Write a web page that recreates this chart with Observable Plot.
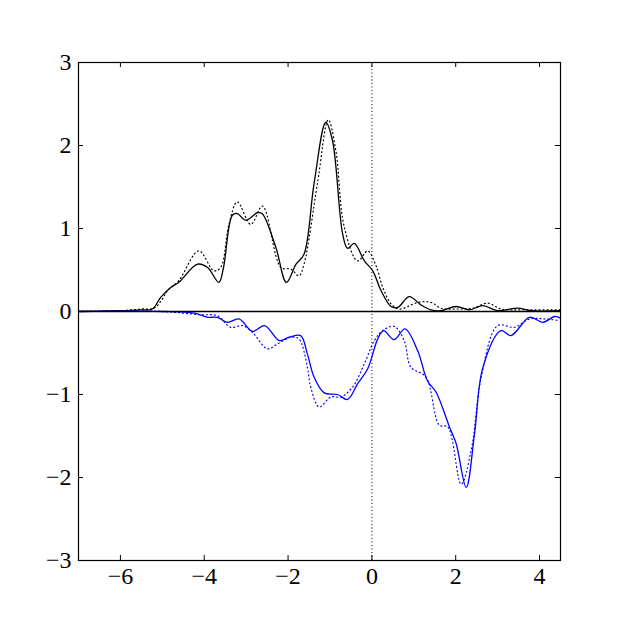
<!DOCTYPE html>
<html>
<head>
<meta charset="utf-8">
<script src="https://cdn.jsdelivr.net/npm/d3@7"></script>
<script src="https://cdn.jsdelivr.net/npm/@observablehq/plot@0.6"></script>
<style>
  html, body { margin: 0; padding: 0; background: #fff; }
  #chart { width: 623px; height: 623px; }
  #note { position: absolute; left: 90px; top: 70px; font: 11px monospace; width: 10px; height: 10px; }
</style>
</head>
<body>
<div id="chart"></div>
<div id="note"></div>
<script>
// Upper (black) curves: [x, y]
const blackSolid = [
  [-7,0],[-6,0.01],[-5.5,0.02],[-5.24,0.03],[-5.04,0.17],[-4.80,0.29],[-4.61,0.35],
  [-4.16,0.57],[-3.92,0.53],[-3.65,0.35],[-3.54,0.53],[-3.33,1.16],[-3.21,1.18],
  [-3.01,1.10],[-2.73,1.19],[-2.62,1.18],[-2.29,0.77],[-2.04,0.35],[-1.81,0.57],
  [-1.62,0.69],[-1.38,1.54],[-1.10,2.28],[-0.94,2.06],[-0.70,0.94],[-0.58,0.76],
  [-0.42,0.82],[-0.18,0.61],[0.02,0.49],[0.22,0.25],[0.46,0.06],[0.62,0.05],
  [0.89,0.18],[1.17,0.08],[1.41,0.02],[1.65,0.01],[2.01,0.06],[2.33,0.02],
  [2.65,0.07],[3.0,0.01],[3.48,0.04],[3.8,0.01],[4.5,0.01]
];
const blackDotted = [
  [-7,0],[-6,0.01],[-5.5,0.03],[-5.2,0.04],[-5.0,0.15],[-4.88,0.25],[-4.61,0.37],
  [-4.13,0.73],[-3.77,0.49],[-3.61,0.53],[-3.41,1.05],[-3.21,1.32],[-2.89,1.05],
  [-2.61,1.27],[-2.17,0.53],[-1.93,0.51],[-1.74,0.43],[-1.62,0.57],[-1.30,1.54],
  [-1.04,2.31],[-0.86,1.94],[-0.66,1.02],[-0.34,0.61],[-0.10,0.73],[0.10,0.55],
  [0.26,0.29],[0.46,0.09],[0.66,0.03],[1.10,0.11],[1.41,0.11],[1.65,0.04],
  [2.0,0.03],[2.4,0.04],[2.77,0.10],[3.08,0.03],[3.6,0.02],[4.5,0.02]
];
// Lower (blue) curves: [x, y]
const blueSolid = [
  [-7,0],[-5,0],[-4.24,-0.02],[-3.92,-0.07],[-3.69,-0.07],[-3.45,-0.13],[-3.17,-0.09],
  [-2.85,-0.24],[-2.56,-0.17],[-2.21,-0.35],[-1.97,-0.31],[-1.70,-0.29],[-1.54,-0.51],
  [-1.38,-0.79],[-1.14,-0.98],[-0.82,-1.0],[-0.58,-1.06],[-0.34,-0.87],[-0.10,-0.69],
  [0.14,-0.33],[0.28,-0.23],[0.53,-0.34],[0.79,-0.21],[1.09,-0.47],[1.33,-0.84],
  [1.53,-0.97],[1.85,-1.39],[2.01,-1.59],[2.25,-2.12],[2.45,-1.47],[2.65,-0.67],
  [3.08,-0.23],[3.32,-0.29],[3.76,-0.07],[4.08,-0.13],[4.36,-0.06],[4.5,-0.08]
];
const blueDotted = [
  [-7,0],[-5,0],[-4.08,-0.04],[-3.69,-0.05],[-3.37,-0.19],[-3.09,-0.17],[-2.85,-0.25],
  [-2.49,-0.45],[-2.25,-0.39],[-1.93,-0.31],[-1.74,-0.33],[-1.54,-0.67],[-1.46,-0.91],
  [-1.26,-1.15],[-0.98,-1.03],[-0.74,-1.03],[-0.46,-0.91],[-0.18,-0.63],[0.06,-0.35],
  [0.26,-0.23],[0.53,-0.18],[0.77,-0.35],[0.93,-0.67],[1.29,-0.79],[1.61,-1.37],
  [1.81,-1.39],[2.13,-2.08],[2.37,-1.67],[2.61,-0.79],[3.00,-0.17],[3.40,-0.19],
  [3.76,-0.09],[4.12,-0.09],[4.48,-0.11]
];
const xTicks = [-6, -4, -2, 0, 2, 4];
const yTicks = [-3, -2, -1, 0, 1, 2, 3];
const xDomain = [-7, 4.5];
const yDomain = [-3, 3];

const W = 623, H = 623, mL = 78, mR = 63, mT = 62, mB = 63, tickPx = 5;
// inward tick length expressed in data units
const tx = (xDomain[1] - xDomain[0]) * tickPx / (W - mL - mR);
const ty = (yDomain[1] - yDomain[0]) * tickPx / (H - mT - mB);

const fmt = d => d < 0 ? "\u2212" + Math.abs(d) : String(d);
const dotted = "1,3";
const serif = "'Liberation Serif', 'DejaVu Serif', serif";

const chart = Plot.plot({
  width: W,
  height: H,
  marginLeft: mL,
  marginRight: mR,
  marginTop: mT,
  marginBottom: mB,
  style: { fontFamily: serif, fontSize: "24px" },
  x: { domain: xDomain, ticks: xTicks, tickFormat: fmt },
  y: { domain: yDomain, ticks: yTicks, tickFormat: fmt },
  marks: [
    Plot.ruleX([0], { stroke: "#000", strokeWidth: 1, strokeDasharray: "1,2.5" }),
    Plot.line(blackDotted, { x: d => d[0], y: d => d[1], curve: "catmull-rom", stroke: "#000", strokeWidth: 1.2, strokeDasharray: dotted }),
    Plot.line(blueDotted, { x: d => d[0], y: d => d[1], curve: "catmull-rom", stroke: "#0000ff", strokeWidth: 1.2, strokeDasharray: dotted }),
    Plot.line(blackSolid, { x: d => d[0], y: d => d[1], curve: "catmull-rom", stroke: "#000", strokeWidth: 1.3 }),
    Plot.line(blueSolid, { x: d => d[0], y: d => d[1], curve: "catmull-rom", stroke: "#0000ff", strokeWidth: 1.3 }),
    Plot.ruleY([0], { stroke: "#000", strokeWidth: 1.5 }),
    // inward ticks on all four sides
    Plot.ruleX(xTicks, { x: d => d, y1: yDomain[0], y2: yDomain[0] + ty, stroke: "#000" }),
    Plot.ruleX(xTicks, { x: d => d, y1: yDomain[1], y2: yDomain[1] - ty, stroke: "#000" }),
    Plot.ruleY(yTicks, { y: d => d, x1: xDomain[0], x2: xDomain[0] + tx, stroke: "#000" }),
    Plot.ruleY(yTicks, { y: d => d, x1: xDomain[1], x2: xDomain[1] - tx, stroke: "#000" }),
    Plot.frame({ stroke: "#000", strokeWidth: 1.2 }),
    Plot.axisX({ anchor: "bottom", ticks: xTicks, tickSize: 0, tickPadding: 6, tickFormat: fmt, label: null, fontSize: 24, fontFamily: serif }),
    Plot.axisY({ anchor: "left", ticks: yTicks, tickSize: 0, tickPadding: 7, tickFormat: fmt, label: null, fontSize: 24, fontFamily: serif })
  ]
});
document.getElementById("chart").appendChild(chart);
// force layout of the text so fonts are resolved before capture
chart.querySelectorAll("text").forEach(t => { t.getBBox(); getComputedStyle(t).fontSize; });
document.getElementById("note").textContent = "\u00a0";
</script>
</body>
</html>
